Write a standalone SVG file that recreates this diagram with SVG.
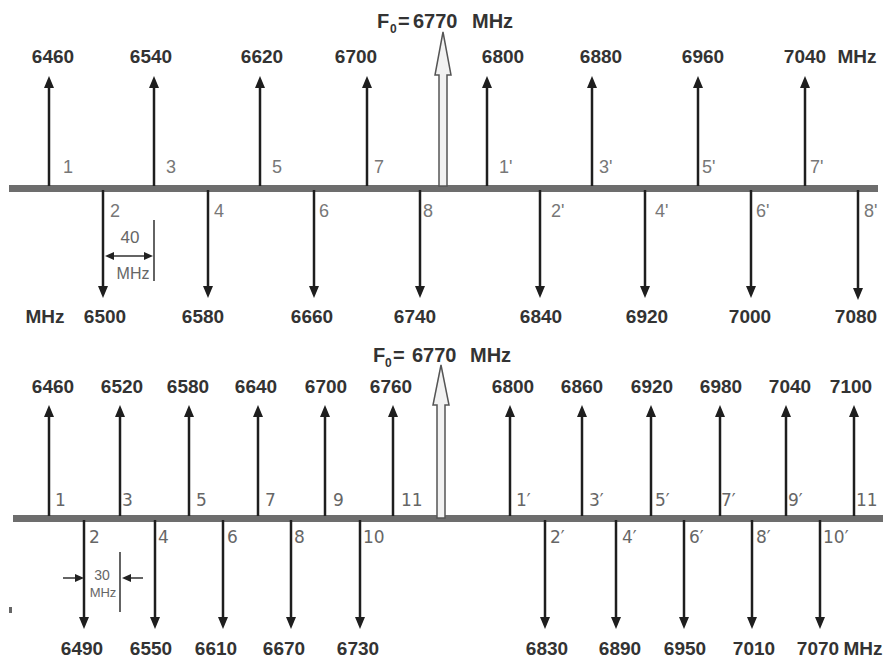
<svg xmlns="http://www.w3.org/2000/svg" width="883" height="659" viewBox="0 0 883 659">
<style>
.bar{fill:#6d6d6d}
.ar{stroke:#1e1e1e;stroke-width:2.5;fill:none;marker-end:url(#ah)}
.thin{stroke:#222;stroke-width:1.4;fill:none}
.tha{stroke:#222;stroke-width:1.4;fill:none;marker-end:url(#sa)}
.big{font-family:"Liberation Sans",Arial,sans-serif;font-weight:bold;font-size:19px;fill:#333;text-anchor:middle}
.f0{font-family:"Liberation Sans",Arial,sans-serif;font-weight:bold;font-size:20px;fill:#333}
.sub{font-size:12px}
.sm{font-family:"Liberation Sans",Arial,sans-serif;font-size:18px;fill:#777}
.sm2{font-family:"DejaVu Sans",Verdana,sans-serif;font-size:17px;fill:#666}
.ann{font-family:"Liberation Sans",Arial,sans-serif;fill:#666;text-anchor:middle}
.hollow{fill:#f2f2f2;stroke:#555;stroke-width:1.5}
</style>
<defs>
<marker id="ah" viewBox="0 0 12 10" refX="0" refY="5" markerWidth="12" markerHeight="10" markerUnits="userSpaceOnUse" orient="auto">
<path d="M0,0 L12,5 L0,10 z" fill="#1e1e1e"/>
</marker>
<marker id="sa" viewBox="0 0 9 8" refX="0" refY="4" markerWidth="9" markerHeight="8" markerUnits="userSpaceOnUse" orient="auto">
<path d="M0,0 L9,4 L0,8 z" fill="#222"/>
</marker>
</defs>

<!-- ===== TOP DIAGRAM ===== -->
<g id="top-axis">
<rect class="bar" x="9" y="185" width="869" height="7"/>
</g>
<g id="top-carrier">
<polygon class="hollow" points="439,186 439,75 435,75 443,32 451,75 447,75 447,186"/>
<text class="f0" y="28"><tspan x="377">F</tspan><tspan class="sub" x="390" y="33">0</tspan><tspan x="398" y="28">=</tspan><tspan x="413">6770</tspan><tspan x="472">MHz</tspan></text>
</g>
<g id="top-connectors">
<line class="ar" x1="49" y1="186" x2="49" y2="88"/>
<line class="ar" x1="154" y1="186" x2="154" y2="88"/>
<line class="ar" x1="260" y1="186" x2="260" y2="88"/>
<line class="ar" x1="367" y1="186" x2="367" y2="88"/>
<line class="ar" x1="487" y1="186" x2="487" y2="88"/>
<line class="ar" x1="592" y1="186" x2="592" y2="88"/>
<line class="ar" x1="698" y1="186" x2="698" y2="88"/>
<line class="ar" x1="805" y1="186" x2="805" y2="88"/>
<line class="ar" x1="103" y1="190" x2="103" y2="286"/>
<line class="ar" x1="208" y1="190" x2="208" y2="286"/>
<line class="ar" x1="314" y1="190" x2="314" y2="286"/>
<line class="ar" x1="420" y1="190" x2="420" y2="286"/>
<line class="ar" x1="540" y1="190" x2="540" y2="286"/>
<line class="ar" x1="645" y1="190" x2="645" y2="286"/>
<line class="ar" x1="751" y1="190" x2="751" y2="286"/>
<line class="ar" x1="858" y1="190" x2="858" y2="288"/>
</g>
<g id="top-upper-labels">
<text class="big" x="53" y="63">6460</text>
<text class="big" x="151" y="63">6540</text>
<text class="big" x="262" y="63">6620</text>
<text class="big" x="356" y="63">6700</text>
<text class="big" x="503" y="63">6800</text>
<text class="big" x="601" y="63">6880</text>
<text class="big" x="703" y="63">6960</text>
<text class="big" x="805" y="63">7040</text>
<text class="big" x="857" y="63">MHz</text>
</g>
<g id="top-lower-labels">
<text class="big" x="45" y="323">MHz</text>
<text class="big" x="105" y="323">6500</text>
<text class="big" x="203" y="323">6580</text>
<text class="big" x="312" y="323">6660</text>
<text class="big" x="415" y="323">6740</text>
<text class="big" x="541" y="323">6840</text>
<text class="big" x="647" y="323">6920</text>
<text class="big" x="750" y="323">7000</text>
<text class="big" x="856" y="323">7080</text>
</g>
<g id="top-index-labels">
<text class="sm" x="63" y="173">1</text>
<text class="sm" x="166" y="173">3</text>
<text class="sm" x="272" y="173">5</text>
<text class="sm" x="374" y="173">7</text>
<text class="sm" x="499" y="173">1'</text>
<text class="sm" x="599" y="173">3'</text>
<text class="sm" x="702" y="173">5'</text>
<text class="sm" x="810" y="173">7'</text>
<text class="sm" x="110" y="217">2</text>
<text class="sm" x="214" y="217">4</text>
<text class="sm" x="319" y="217">6</text>
<text class="sm" x="423" y="217">8</text>
<text class="sm" x="551" y="217">2'</text>
<text class="sm" x="655" y="217">4'</text>
<text class="sm" x="756" y="217">6'</text>
<text class="sm" x="864" y="217">8'</text>
</g>
<g id="top-spacing">
<line class="thin" x1="154" y1="220" x2="154" y2="281"/>
<line class="tha" x1="129" y1="256" x2="114" y2="256"/>
<line class="tha" x1="129" y1="256" x2="144" y2="256"/>
<text class="ann" x="130" y="243" font-size="17">40</text>
<text class="ann" x="133" y="279" font-size="16">MHz</text>
</g>

<!-- ===== BOTTOM DIAGRAM ===== -->
<g id="bottom-axis">
<rect class="bar" x="13" y="515" width="870" height="7"/>
</g>
<g id="bottom-carrier">
<polygon class="hollow" points="437,518 437,405 433,405 441,365 449,405 445,405 445,518"/>
<text class="f0" y="362"><tspan x="373">F</tspan><tspan class="sub" x="385" y="367">0</tspan><tspan x="393" y="362">=</tspan><tspan x="412">6770</tspan><tspan x="470">MHz</tspan></text>
</g>
<g id="bottom-connectors">
<line class="ar" x1="49" y1="516" x2="49" y2="417"/>
<line class="ar" x1="120" y1="516" x2="120" y2="417"/>
<line class="ar" x1="189" y1="516" x2="189" y2="417"/>
<line class="ar" x1="258" y1="516" x2="258" y2="417"/>
<line class="ar" x1="325" y1="516" x2="325" y2="417"/>
<line class="ar" x1="393" y1="516" x2="393" y2="417"/>
<line class="ar" x1="510" y1="516" x2="510" y2="417"/>
<line class="ar" x1="582" y1="516" x2="582" y2="417"/>
<line class="ar" x1="651" y1="516" x2="651" y2="417"/>
<line class="ar" x1="720" y1="516" x2="720" y2="417"/>
<line class="ar" x1="786" y1="516" x2="786" y2="417"/>
<line class="ar" x1="854" y1="516" x2="854" y2="417"/>
<line class="ar" x1="84" y1="520" x2="84" y2="617"/>
<line class="ar" x1="155" y1="520" x2="155" y2="617"/>
<line class="ar" x1="223" y1="520" x2="223" y2="617"/>
<line class="ar" x1="291" y1="520" x2="291" y2="617"/>
<line class="ar" x1="360" y1="520" x2="360" y2="617"/>
<line class="ar" x1="545" y1="520" x2="545" y2="617"/>
<line class="ar" x1="616" y1="520" x2="616" y2="617"/>
<line class="ar" x1="684" y1="520" x2="684" y2="617"/>
<line class="ar" x1="752" y1="520" x2="752" y2="617"/>
<line class="ar" x1="820" y1="520" x2="820" y2="617"/>
</g>
<g id="bottom-upper-labels">
<text class="big" x="53" y="393">6460</text>
<text class="big" x="122" y="393">6520</text>
<text class="big" x="188" y="393">6580</text>
<text class="big" x="256" y="393">6640</text>
<text class="big" x="326" y="393">6700</text>
<text class="big" x="391" y="393">6760</text>
<text class="big" x="513" y="393">6800</text>
<text class="big" x="582" y="393">6860</text>
<text class="big" x="652" y="393">6920</text>
<text class="big" x="721" y="393">6980</text>
<text class="big" x="790" y="393">7040</text>
<text class="big" x="851" y="393">7100</text>
</g>
<g id="bottom-lower-labels">
<text class="big" x="82" y="655">6490</text>
<text class="big" x="151" y="655">6550</text>
<text class="big" x="216" y="655">6610</text>
<text class="big" x="284" y="655">6670</text>
<text class="big" x="358" y="655">6730</text>
<text class="big" x="547" y="655">6830</text>
<text class="big" x="620" y="655">6890</text>
<text class="big" x="685" y="655">6950</text>
<text class="big" x="754" y="655">7010</text>
<text class="big" x="818" y="655">7070</text>
<text class="big" x="863" y="655" font-size="17">MHz</text>
</g>
<g id="bottom-index-labels">
<text class="sm2" x="55" y="506">1</text>
<text class="sm2" x="122" y="506">3</text>
<text class="sm2" x="196" y="506">5</text>
<text class="sm2" x="265" y="506">7</text>
<text class="sm2" x="333" y="506">9</text>
<text class="sm2" x="401" y="506">11</text>
<text class="sm2" x="516" y="506">1′</text>
<text class="sm2" x="589" y="506">3′</text>
<text class="sm2" x="655" y="506">5′</text>
<text class="sm2" x="721" y="506">7′</text>
<text class="sm2" x="788" y="506">9′</text>
<text class="sm2" x="856" y="506">11</text>
<text class="sm2" x="89" y="543">2</text>
<text class="sm2" x="158" y="543">4</text>
<text class="sm2" x="227" y="543">6</text>
<text class="sm2" x="294" y="543">8</text>
<text class="sm2" x="363" y="543">10</text>
<text class="sm2" x="550" y="543">2′</text>
<text class="sm2" x="622" y="543">4′</text>
<text class="sm2" x="689" y="543">6′</text>
<text class="sm2" x="756" y="543">8′</text>
<text class="sm2" x="823" y="543">10′</text>
</g>
<g id="bottom-spacing">
<line class="thin" x1="120" y1="552" x2="120" y2="612"/>
<line class="tha" x1="63" y1="578" x2="75" y2="578"/>
<line class="tha" x1="143" y1="578" x2="131" y2="578"/>
<text class="ann" x="102" y="580" font-size="14">30</text>
<text class="ann" x="103" y="597" font-size="13">MHz</text>
</g>
<rect x="9" y="607" width="3" height="6" fill="#666"/>
</svg>
